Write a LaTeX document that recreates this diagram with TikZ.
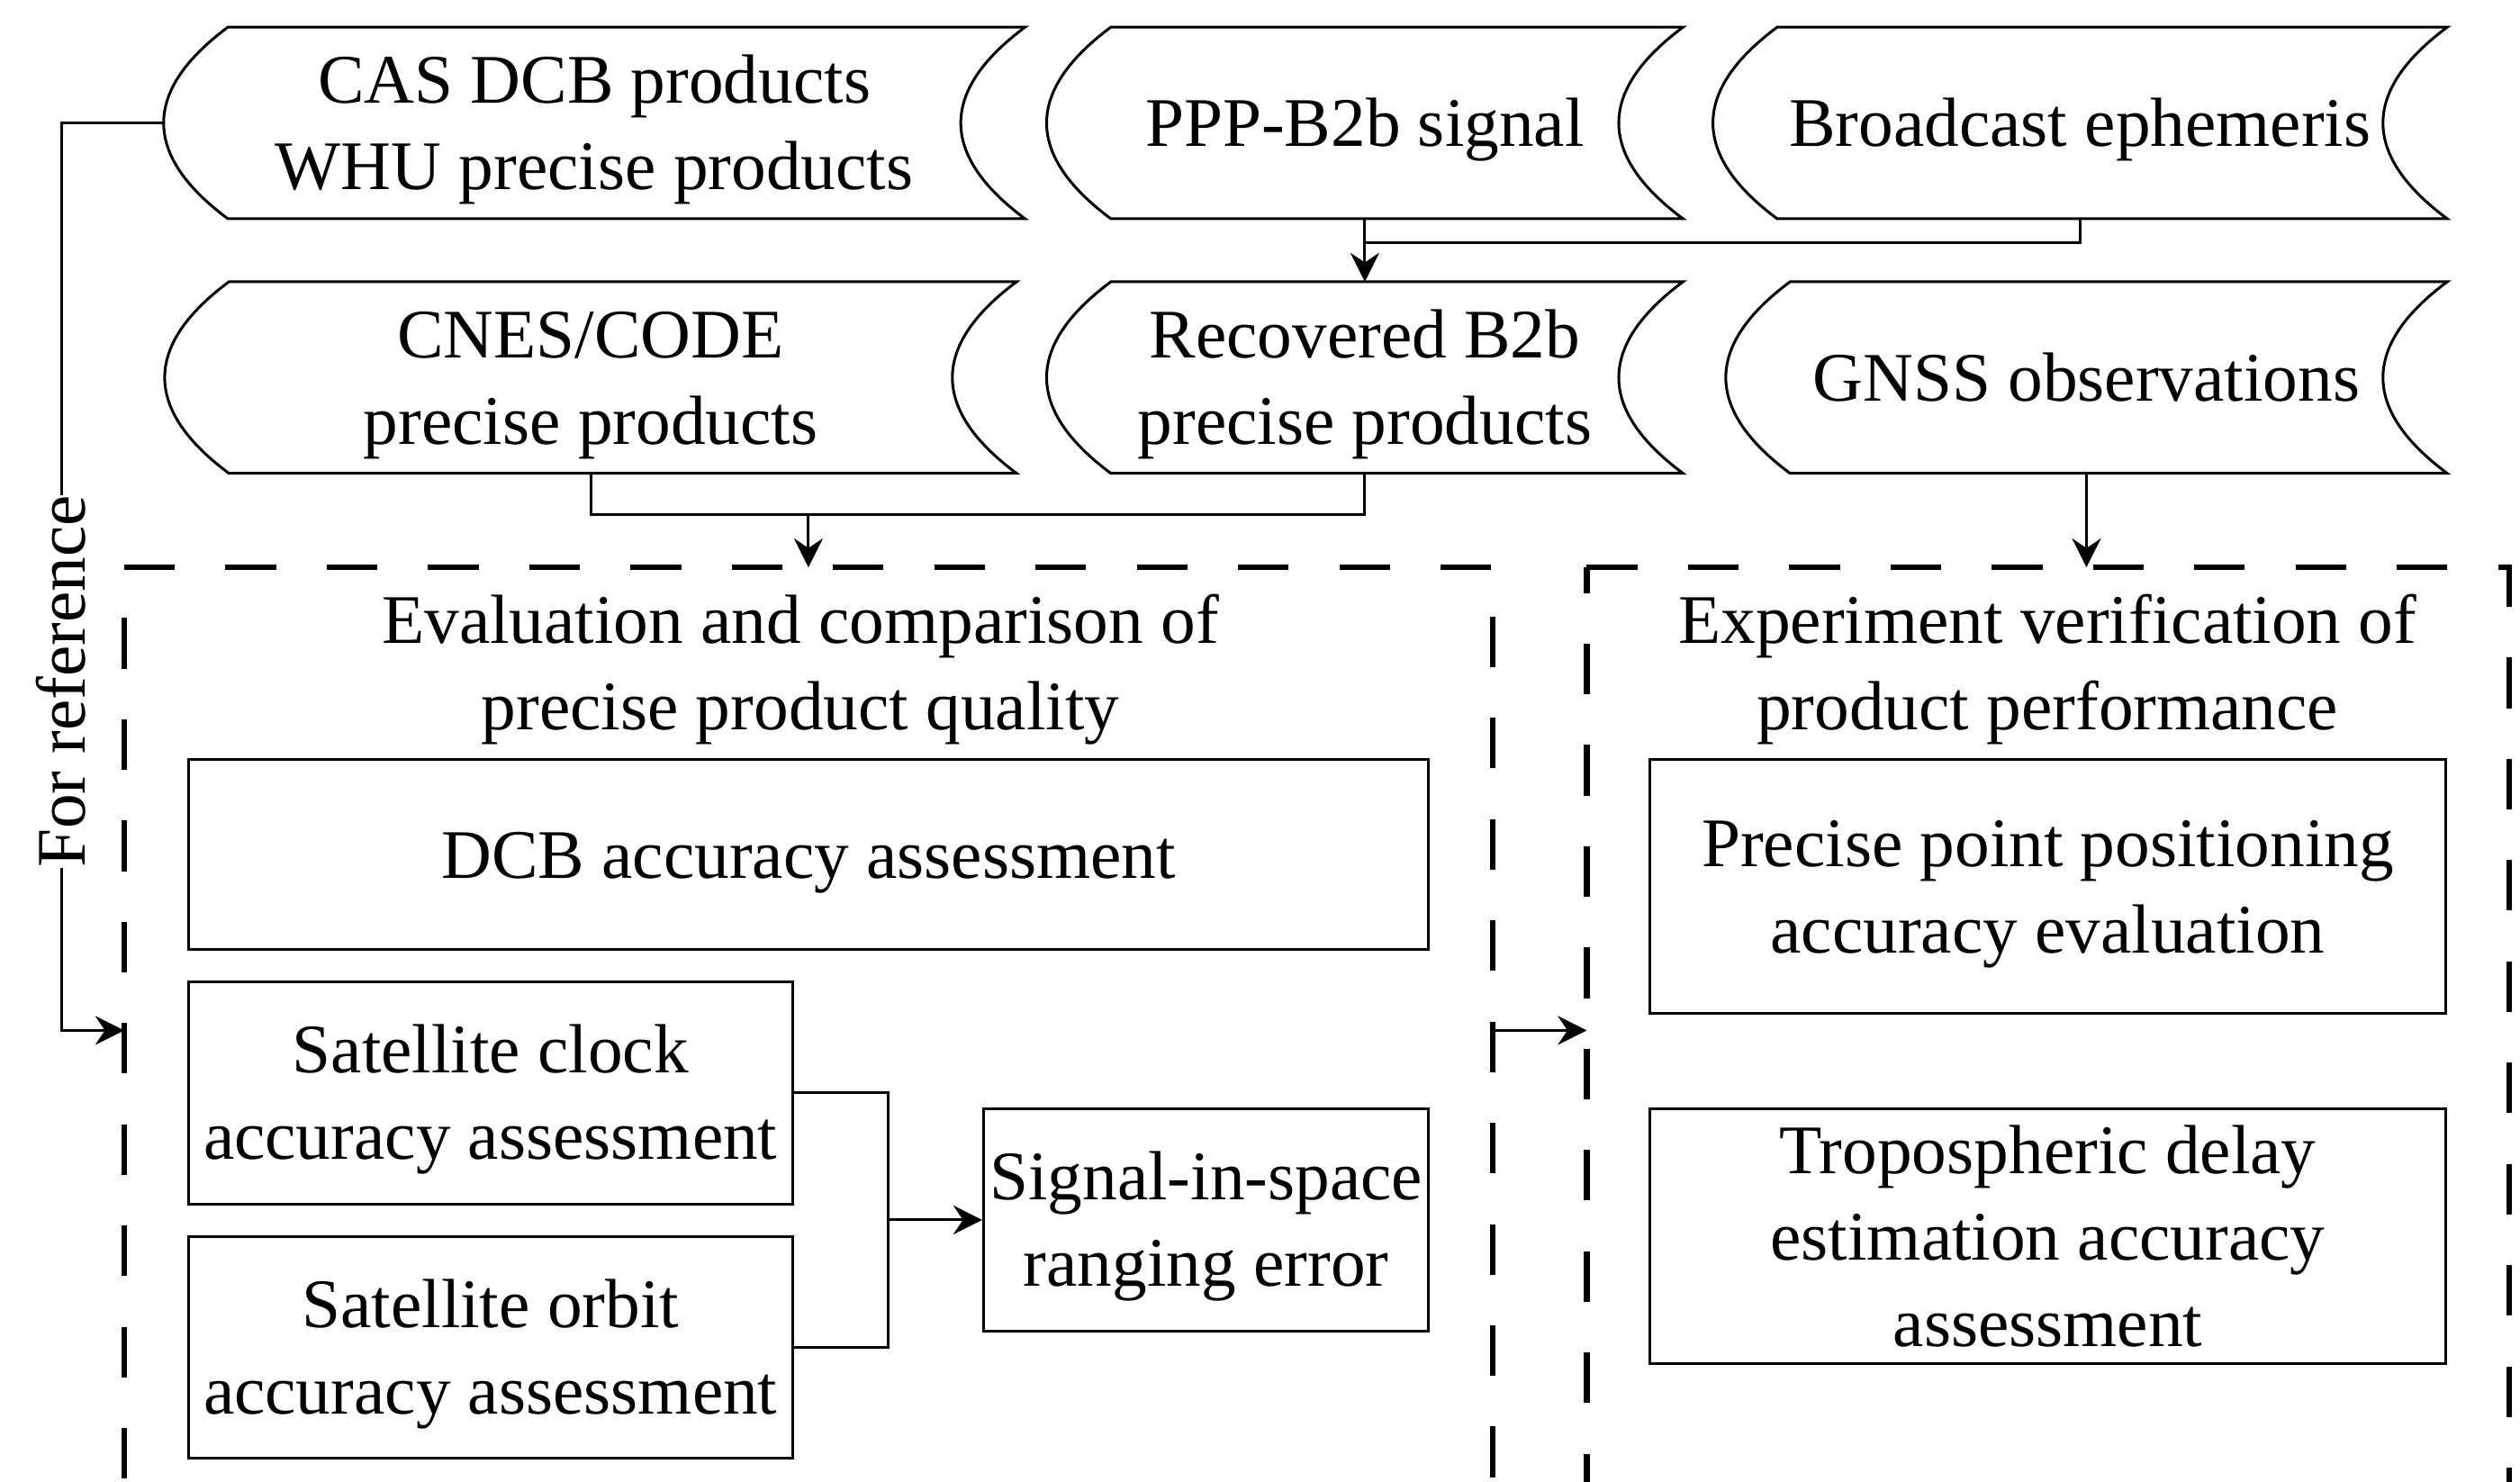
\documentclass[tikz,border=0pt]{standalone}
\usepackage{fontspec}
\setmainfont{Liberation Serif}
\usetikzlibrary{arrows.meta}
\newcommand\tstrut{\rule[-9.4pt]{0pt}{48pt}}
\begin{document}
\begin{tikzpicture}[x=1pt,y=-1pt,
  every node/.style={font=\fontsize{43.3pt}{53.8pt}\selectfont, inner sep=0pt, align=center},
  wire/.style={line width=1.7pt, draw=black},
  arrowln/.style={wire, -{Stealth[length=18pt,width=18pt,inset=6pt]}},
  stor/.style={minimum height=118.8pt},
  boxn/.style={draw, line width=1.7pt},
  regionbox/.style={draw=none},
  dashln/.style={line width=3.7pt, dash pattern=on 31.5pt off 31.5pt},
]
\useasboundingbox (0,0) rectangle (1568,922);
\clip (0,0) rectangle (1568,922);

% stored-data inputs
\node[stor, minimum width=535.6pt] (cas)  at (369.8,76.5)  {\tstrut CAS DCB products\\WHU precise products\tstrut};
\node[stor, minimum width=395.6pt] (ppp)  at (849.2,76.5)  {\tstrut PPP-B2b signal\tstrut};
\node[stor, minimum width=456.5pt] (bce)  at (1294.25,76.5) {\tstrut Broadcast ephemeris\tstrut};
\node[stor, minimum width=529.7pt] (cnes) at (367.5,234.9) {\tstrut CNES/CODE\\precise products\tstrut};
\node[stor, minimum width=395.6pt] (rec)  at (849.2,234.9) {\tstrut Recovered B2b\\precise products\tstrut};
\node[stor, minimum width=448.5pt] (gnss) at (1298.25,234.9) {\tstrut GNSS observations\tstrut};
\foreach \n in {cas,ppp,bce,cnes,rec,gnss}{
  \draw[wire] ([xshift=40pt]\n.north west) -- (\n.north east)
     .. controls ([xshift=-53.3pt,yshift=-39.6pt]\n.north east) and ([xshift=-53.3pt,yshift=39.6pt]\n.south east) .. (\n.south east)
     -- ([xshift=40pt]\n.south west)
     .. controls ([xshift=-13.3pt,yshift=39.6pt]\n.south west) and ([xshift=-13.3pt,yshift=-39.6pt]\n.north west) .. ([xshift=40pt]\n.north west) -- cycle;
}

% dashed regions
\node[regionbox, minimum width=851pt, minimum height=575.8pt] (box1) at (503,641.1) {};
\node[regionbox, minimum width=573.5pt, minimum height=575.8pt] (box2) at (1274.25,641.1) {};
\draw[dashln] (box1.north west) -- (box1.north east) -- (box1.south east);
\draw[dashln, dash phase=31.5pt] (box1.north west) -- (box1.south west);
\draw[dashln] (box2.north west) -- (box2.north east) -- (box2.south east);
\draw[dashln, dash phase=15.5pt] (box2.north west) -- (box2.south west);

% titles
\node (t1) at (498,412.8) {\tstrut Evaluation and comparison of\\precise product quality\tstrut};
\node (t2) at (1274,412.8) {\tstrut Experiment verification of\\product performance\tstrut};

% inner boxes
\node[boxn, minimum width=771.7pt, minimum height=118.2pt] (dcb)   at (503.15,531.7) {\tstrut DCB accuracy assessment\tstrut};
\node[boxn, minimum width=375.7pt, minimum height=138.2pt] (clock) at (305.15,679.9) {\tstrut Satellite clock\\accuracy assessment\tstrut};
\node[boxn, minimum width=375.7pt, minimum height=137.9pt] (orbit) at (305.15,838.35) {\tstrut Satellite orbit\\accuracy assessment\tstrut};
\node[boxn, minimum width=277pt, minimum height=138pt] (sig) at (750.5,759) {\tstrut Signal-in-space\\ranging error\tstrut};
\node[boxn, minimum width=495.7pt, minimum height=157.8pt] (pppacc) at (1274.15,551.5) {\tstrut Precise point positioning\\accuracy evaluation\tstrut};
\node[boxn, minimum width=495.7pt, minimum height=158.5pt] (tropo) at (1274.15,769.25) {\tstrut Tropospheric delay\\estimation accuracy\\assessment\tstrut};

% connectors
\coordinate (j1) at (849.2,151);
\coordinate (j2) at (503,320);
\coordinate (j3) at (552.4,759);
\coordinate (refc) at (38.6,76.5);
\draw[arrowln] (ppp.south) -- (rec.north);
\draw[wire] (bce.south) |- (j1);
\draw[wire] (cnes.south) |- (j2) -| (rec.south);
\draw[arrowln] (j2) -- (box1.north);
\draw[arrowln] (gnss.south) -- (gnss.south |- box2.north);
\draw[arrowln] (cas.west) -- (refc) |- (box1.west);
\node[rotate=90, fill=white] (reflbl) at (38.6,424) {\tstrut For reference\tstrut};
\draw[wire] (clock.east) -| (j3);
\draw[wire] (orbit.east) -| (j3);
\draw[arrowln] (j3) -- (sig.west);
\draw[arrowln] (box1.east) -- (box2.west);
\end{tikzpicture}
\end{document}
